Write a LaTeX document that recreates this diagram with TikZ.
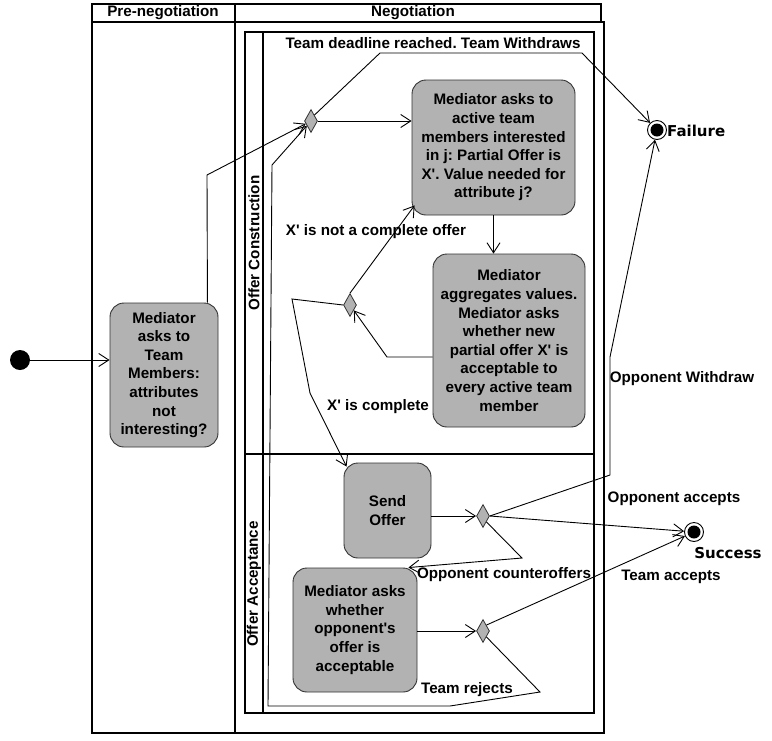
\documentclass[tikz,border=0pt]{standalone}
\usepackage{fontspec}
\setmainfont{Liberation Sans}
\newfontfamily\dvs{DejaVu Sans}
\usetikzlibrary{arrows.meta,shapes.geometric,calc}
\newcommand{\myq}{\textquotesingle}
\begin{document}
\begin{tikzpicture}[x=1pt,y=-1pt,
  txt/.style={font=\fontsize{15.2}{18.6}\selectfont\bfseries\frenchspacing, inner sep=0pt, align=center},
  act/.style={txt, draw=black!80, line width=0.9pt, fill=gray!60, rounded corners=14pt},
  dec/.style={diamond, draw=black!80, line width=0.8pt, fill=gray!60, minimum width=13pt, minimum height=23pt, inner sep=0pt},
  frame/.style={draw=black, line width=2pt},
  flow/.style={draw=black, line width=0.9pt, -{Straight Barb[length=10pt,width=13pt]}},
  endst/.style={circle, draw=black, line width=0.9pt, fill=white, minimum size=19pt, inner sep=0pt,
     path picture={\fill[black] (path picture bounding box.center) circle (6.5pt);}},
  bigl/.style={font=\dvs\fontsize{15}{18}\selectfont\bfseries, inner sep=0pt},
]
\useasboundingbox (0,0) rectangle (772,740);
\fill[white] (0,0) rectangle (772,740);

% swimlane frames
\draw[frame] (92,4) rectangle (601,22);
\draw[frame] (235,4) -- (235,22);
\draw[frame] (92,22) rectangle (235,733);
\draw[frame] (235,22) rectangle (604,733);
\draw[frame] (245,32) rectangle (594,713);
\draw[frame] (263,32) -- (263,713);
\draw[frame] (245,454) -- (594,454);

\node[txt] (hpre) at (163,13) {Pre-negotiation};
\node[txt] (hneg) at (413,13) {Negotiation};
\node[txt, rotate=90] (lcons) at (254,243) {Offer Construction};
\node[txt, rotate=90] (lacc) at (254,584) {Offer Acceptance};

% nodes
\node[circle, fill=black, minimum size=20pt, inner sep=0pt] (init) at (20,360) {};
\node[act, minimum width=108pt, minimum height=144pt] (pre) at (164,375)
  {Mediator\\asks to\\Team\\Members:\\attributes\\not\\interesting?};
\node[act, minimum width=163pt, minimum height=135pt] (box1) at (493.5,147.5)
  {Mediator asks to\\active team\\members interested\\in j: Partial Offer is\\X\myq. Value needed for\\attribute j?};
\node[act, minimum width=152pt, minimum height=173pt] (box2) at (509,340.5)
  {Mediator\\aggregates values.\\Mediator asks\\whether new\\partial offer X\myq{} is\\acceptable to\\every active team\\member};
\node[act, minimum width=87pt, minimum height=95pt] (send) at (387.5,510.5) {Send\\Offer};
\node[act, minimum width=124pt, minimum height=124pt] (box3) at (355,630)
  {Mediator asks\\whether\\opponent\myq s\\offer is\\acceptable};

\node[dec] (d1) at (311,121) {};
\node[dec] (d2) at (350,305) {};
\node[dec] (d3) at (483,516) {};
\node[dec] (d4) at (483,631) {};

\node[endst] (fail) at (657,130) {};
\node[endst] (succ) at (694,532) {};
\node[bigl, anchor=west] (faill) at (667,131) {Failure};
\node[bigl] (succl) at (728,553) {Success};

% connectors
\draw[flow] (init) -- (pre.west |- init);
\draw[flow] ($(pre.north east)+(-11,0)$) -- (207,175) -- (d1);
\draw[flow] (d1) -- (box1.west |- d1);
\draw[flow] (d1.north east) -- (380,53) -- (582,53) -- (fail);
\draw[flow] (box1.south) -- (box1.south |- box2.north);
\draw[flow] (box2.west |- 0,357) -- (387,357) -- (d2);
\draw[flow] (d2.north) -- ($(box1.south west)+(3,-10)$);
\draw[flow] (d2.west) -- (292,299) -- (310,393) -- ($(send.north west)+(3,4)$);
\draw[flow] (send.east |- d3) -- (d3);
\draw[flow] (d3.east) -- (succ);
\draw[flow] (d3.east) -- (610,475) -- (610,357) -- (fail);
\draw[flow] (d3.south east) -- (522,558) -- ($(box3.north east)+(-9,0)$);
\draw[flow] (box3.east |- d4) -- (d4);
\draw[flow] (d4.north east) -- (succ);
\draw[flow] (d4.south east) -- (540,692) -- (450,706) -- (268,706) -- (272,165) -- (d1);

% labels
\node[txt] (l1) at (433,43) {Team deadline reached. Team Withdraws};
\node[txt] (l2) at (376,232) {X\myq{} is not a complete offer};
\node[txt] (l3) at (378,407) {X\myq{} is complete};
\node[txt] (l4) at (682,379) {Opponent Withdraw};
\node[txt] (l5) at (674,499) {Opponent accepts};
\node[txt] (l6) at (504,575) {Opponent counteroffers};
\node[txt] (l7) at (671,577) {Team accepts};
\node[txt] (l8) at (467,690) {Team rejects};
\end{tikzpicture}
\end{document}
